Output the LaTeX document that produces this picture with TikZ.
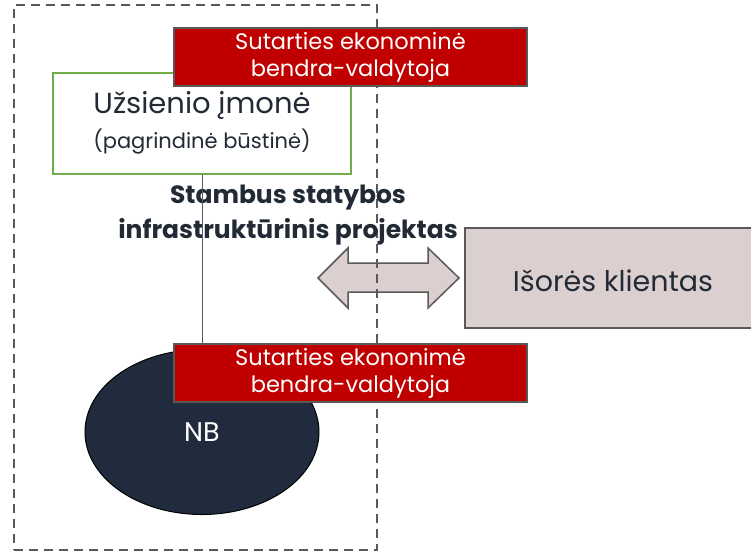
\documentclass[tikz,border=0pt]{standalone}
\usepackage{fontspec}
\setmainfont{Poppins}
\usetikzlibrary{shapes.geometric}
\definecolor{frameGray}{HTML}{595959}
\definecolor{hqGreen}{HTML}{70AD47}
\definecolor{roleRed}{HTML}{C00000}
\definecolor{inkNavy}{HTML}{222A35}
\definecolor{clientFill}{HTML}{DCCFD0}
\definecolor{unitFill}{HTML}{212B3E}
\definecolor{linkGray}{HTML}{4F5B6B}
\tikzset{
  rolebox/.style={draw=frameGray, line width=2pt, fill=roleRed, text=white,
    minimum width=353pt, minimum height=58pt, inner sep=0pt, align=center,
    font=\fontsize{22.5}{27}\selectfont},
  orgbox/.style={draw=hqGreen, line width=2pt, fill=white, text=inkNavy,
    minimum width=298pt, minimum height=101pt, inner sep=0pt, align=center,
    font=\fontsize{29}{35}\selectfont},
  partybox/.style={draw=frameGray, line width=2pt, fill=clientFill, inner sep=0pt},
  unit/.style={ellipse, draw=black, line width=1pt, fill=unitFill, text=white,
    minimum width=234pt, minimum height=165pt, inner sep=0pt,
    font=\fontsize{27}{30}\selectfont},
  boundary/.style={draw=frameGray, line width=2pt, dash pattern=on 9pt off 6pt},
  flowarrow/.style={draw=frameGray, line width=1.5pt, fill=clientFill, line join=miter},
  titletext/.style={text=inkNavy, align=center, font=\fontsize{25}{35}\selectfont\bfseries}
}
\begin{document}
\begin{tikzpicture}[x=1pt,y=-1pt]
\useasboundingbox (0,0) rectangle (751,555);
% two-way relation with the client
\draw[flowarrow] (318,278) -- (348,248) -- (348,263) -- (428,263) -- (428,248)
  -- (459,278) -- (428,308) -- (428,292) -- (348,292) -- (348,308) -- cycle;
% project boundary
\node[boundary, minimum width=363pt, minimum height=545pt, inner sep=0pt] (scope) at (195.5,277.5) {};
% external client
\node[partybox, minimum width=330pt, minimum height=100pt] (clientbox) at (630,278) {};
\node[text=inkNavy, font=\fontsize{28.5}{32}\selectfont] (client) at (613,281) {Išorės klientas};
% head office and subsidiary
\node[orgbox] (hq) at (202,123) {Užsienio įmonė\\{\fontsize{21}{35}\selectfont (pagrindinė būstinė)}};
\node[unit] (nb) at (202,432) {NB};
% project title
\node[titletext] (title) at (288,215) {Stambus statybos\\infrastruktūrinis projektas};
% link between head office and subsidiary
\draw[linkGray, line width=1pt] (hq.south) -- (202,344);
% contractual roles
\node[rolebox] (roleTop) at (350.5,57) {Sutarties ekonominė\\bendra-valdytoja};
\node[rolebox] (roleBottom) at (350.5,373) {Sutarties ekononimė\\bendra-valdytoja};
\end{tikzpicture}
\end{document}
